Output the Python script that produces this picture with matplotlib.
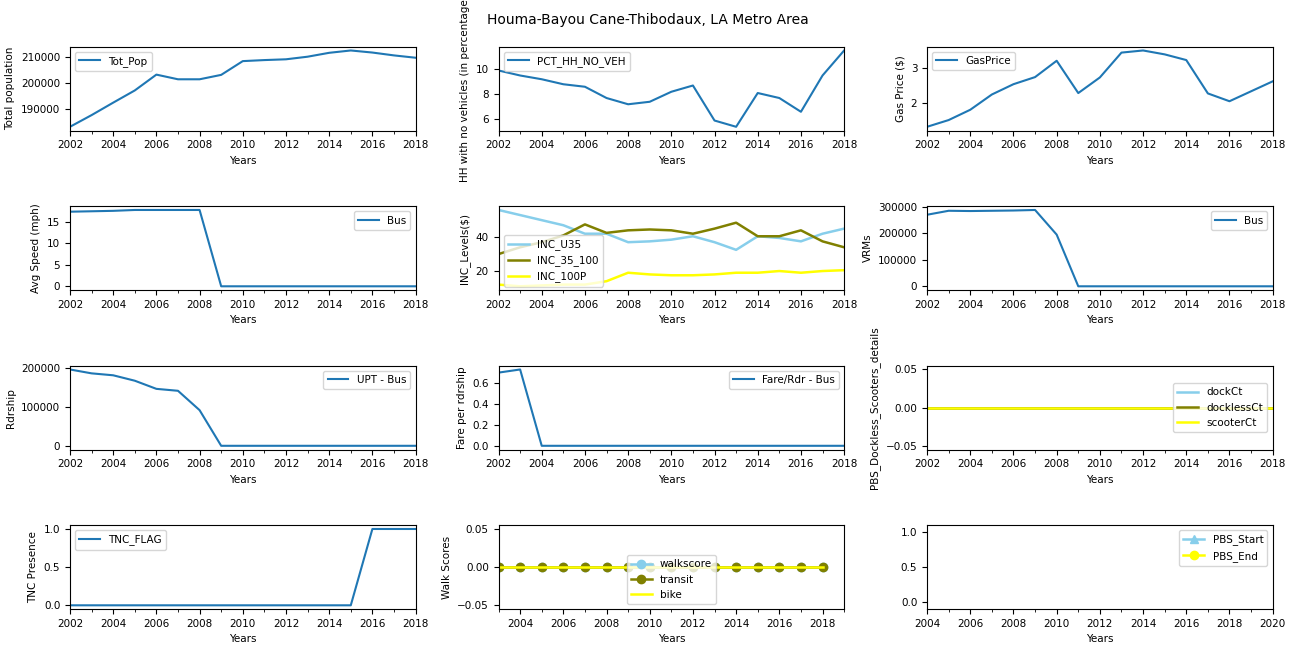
import numpy as np
import matplotlib
matplotlib.use('Agg')
import matplotlib.pyplot as plt
from matplotlib.ticker import MultipleLocator

years = list(range(2002, 2019))
tot_pop = [183000, 187500, 192300, 197000, 203100, 201300, 201300, 203000, 208300, 208700, 209000, 210000, 211500, 212400, 211600, 210500, 209600]
pct_hh_no_veh = [9.9, 9.5, 9.2, 8.8, 8.6, 7.7, 7.2, 7.4, 8.2, 8.7, 5.9, 5.4, 8.1, 7.7, 6.6, 9.5, 11.5]
gas_price = [1.33, 1.52, 1.81, 2.24, 2.53, 2.73, 3.19, 2.28, 2.72, 3.42, 3.48, 3.37, 3.21, 2.27, 2.05, 2.33, 2.61]
avg_speed = [17.3, 17.4, 17.5, 17.7, 17.7, 17.7, 17.7, 0, 0, 0, 0, 0, 0, 0, 0, 0, 0]
inc_u35 = [56, 53, 50, 47, 42, 42, 37, 37.5, 38.5, 40.5, 37, 32.5, 40.5, 39.5, 37.5, 42, 45]
inc_35_100 = [30, 34, 37, 41, 47.5, 42.5, 44, 44.5, 44, 42, 45, 48.5, 40.5, 40.5, 44, 37.5, 34]
inc_100p = [12, 11, 11.5, 12, 12, 14, 19, 18, 17.5, 17.5, 18, 19, 19, 20, 19, 20, 20.5]
vrms = [270000, 285000, 284000, 285000, 286000, 288000, 195000, 0, 0, 0, 0, 0, 0, 0, 0, 0, 0]
upt = [197000, 187000, 182000, 168000, 147000, 142000, 92000, 0, 0, 0, 0, 0, 0, 0, 0, 0, 0]
fare = [0.70, 0.73, 0, 0, 0, 0, 0, 0, 0, 0, 0, 0, 0, 0, 0, 0, 0]
dock_ct = [0] * 17
dockless_ct = [0] * 17
scooter_ct = [0] * 17
tnc_flag = [0] * 14 + [1, 1, 1]
walk_years = list(range(2003, 2019))
walkscore = [0] * 16
transit = [0] * 16
bike = [0] * 16

plt.rcParams['font.size'] = 7.5
fig, axes = plt.subplots(4, 3, figsize=(12.96, 6.48), dpi=100)
fig.suptitle('Houma-Bayou Cane-Thibodaux, LA Metro Area', fontsize=10)

def setup(ax, ylabel, xlim=(2002, 2018), ystep=None):
    ax.set_xlim(*xlim)
    ax.xaxis.set_major_locator(MultipleLocator(2))
    ax.xaxis.set_minor_locator(MultipleLocator(1))
    if ystep:
        ax.yaxis.set_major_locator(MultipleLocator(ystep))
    ax.set_xlabel('Years')
    ax.set_ylabel(ylabel)

ax = axes[0, 0]
ax.plot(years, tot_pop, label='Tot_Pop')
setup(ax, 'Total population', ystep=10000); ax.legend(loc='upper left')

ax = axes[0, 1]
ax.plot(years, pct_hh_no_veh, label='PCT_HH_NO_VEH')
setup(ax, 'HH with no vehicles (in percentage)', ystep=2); ax.legend(loc='upper left')

ax = axes[0, 2]
ax.plot(years, gas_price, label='GasPrice')
setup(ax, 'Gas Price ($)', ystep=1); ax.legend(loc='upper left')

ax = axes[1, 0]
ax.plot(years, avg_speed, label='Bus')
setup(ax, 'Avg Speed (mph)', ystep=5); ax.legend(loc='upper right')

ax = axes[1, 1]
ax.plot(years, inc_u35, color='skyblue', lw=1.8, label='INC_U35')
ax.plot(years, inc_35_100, color='olive', lw=1.8, label='INC_35_100')
ax.plot(years, inc_100p, color='yellow', lw=1.8, label='INC_100P')
setup(ax, 'INC_Levels($)', ystep=20); ax.legend(loc='lower left', bbox_to_anchor=(0.0, -0.02))

ax = axes[1, 2]
ax.plot(years, vrms, label='Bus')
setup(ax, 'VRMs', ystep=100000); ax.legend(loc='upper right')

ax = axes[2, 0]
ax.plot(years, upt, label='UPT - Bus')
setup(ax, 'Rdrship', ystep=100000); ax.legend(loc='upper right')

ax = axes[2, 1]
ax.plot(years, fare, label='Fare/Rdr - Bus')
setup(ax, 'Fare per rdrship', ystep=0.2); ax.legend(loc='upper right')

ax = axes[2, 2]
ax.plot(years, dock_ct, color='skyblue', lw=1.8, label='dockCt')
ax.plot(years, dockless_ct, color='olive', lw=1.8, label='docklessCt')
ax.plot(years, scooter_ct, color='yellow', lw=1.8, label='scooterCt')
setup(ax, 'PBS_Dockless_Scooters_details'); ax.legend(loc='center right')

ax = axes[3, 0]
ax.plot(years, tnc_flag, label='TNC_FLAG')
setup(ax, 'TNC Presence'); ax.legend(loc='upper left')

ax = axes[3, 1]
ax.plot(walk_years, walkscore, color='skyblue', lw=1.8, marker='o', label='walkscore')
ax.plot(walk_years, transit, color='olive', lw=1.8, marker='o', label='transit')
ax.plot(walk_years, bike, color='yellow', lw=1.8, label='bike')
setup(ax, 'Walk Scores', xlim=(2003, 2019)); ax.legend(loc='lower center')

ax = axes[3, 2]
ax.plot([], [], color='skyblue', lw=1.8, marker='^', label='PBS_Start')
ax.plot([], [], color='yellow', lw=1.8, marker='o', label='PBS_End')
setup(ax, '', xlim=(2004, 2020)); ax.set_ylim(-0.1, 1.1)
ax.legend(loc='upper right')

fig.subplots_adjust(left=0.054, right=0.982, top=0.928, bottom=0.06, hspace=0.9, wspace=0.24)
fig.savefig('out.png', dpi=100)
